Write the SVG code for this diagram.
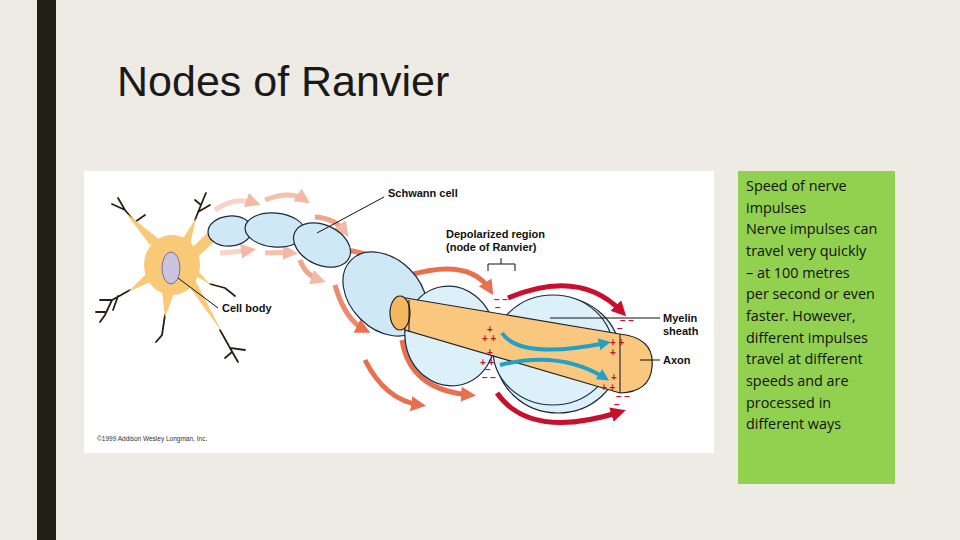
<svg xmlns="http://www.w3.org/2000/svg" width="960" height="540" viewBox="0 0 960 540">
<defs>
<style>
.lbl{font-family:"Liberation Sans",Arial,sans-serif;font-size:11px;font-weight:bold;fill:#111}
.ln{stroke:#111;stroke-width:1;fill:none}
.sc{fill:#cfe8f5;stroke:#1a2a3a;stroke-width:1.2}
.my{fill:#dcf0fa;stroke:#1a2a3a;stroke-width:1.2}
.dend{stroke:#2a1f10;stroke-width:1.8;fill:none;stroke-linecap:round}
.pr{fill:#f9c978}
.pl{font-family:"Liberation Sans",Arial,sans-serif;font-size:10px;font-weight:bold;fill:#c0143c}
.bt{font-family:"Open Sans","Liberation Sans",sans-serif;font-size:14.4px;fill:#111}
</style>
<marker id="ra" viewBox="0 0 10 10" refX="6" refY="5" markerWidth="3" markerHeight="3" orient="auto"><path d="M0,0 L10,5 L0,10 z" fill="#c8102e"/></marker>
<marker id="oa" viewBox="0 0 10 10" refX="6" refY="5" markerWidth="3" markerHeight="3" orient="auto"><path d="M0,0 L10,5 L0,10 z" fill="#e8704f"/></marker>
<marker id="pa" viewBox="0 0 10 10" refX="6" refY="5" markerWidth="3" markerHeight="3" orient="auto"><path d="M0,0 L10,5 L0,10 z" fill="#f5b8a4"/></marker>
<marker id="ba" viewBox="0 0 10 10" refX="6" refY="5" markerWidth="3" markerHeight="3" orient="auto"><path d="M0,0 L10,5 L0,10 z" fill="#22a0c8"/></marker>
</defs>
<rect width="960" height="540" fill="#eeebe4"/>
<rect x="37" y="0" width="19" height="540" fill="#1f1f14"/>
<text x="117" y="96" font-family="Liberation Sans,Arial,sans-serif" font-size="43" fill="#1a1a1a">Nodes of Ranvier</text>
<rect x="84" y="171" width="630" height="282" fill="#fff"/>
<g fill="none" stroke-width="5">
<path d="M215,210 Q235,196 255,203" stroke="#f8d4c6" marker-end="url(#pa)"/>
<path d="M265,200 Q290,190 305,200" stroke="#f5c0ac" marker-end="url(#pa)"/>
<path d="M315,217 Q335,218 345,232" stroke="#f0a48a" marker-end="url(#pa)"/>
<path d="M220,253 Q235,252 250,250" stroke="#f8d4c6" marker-end="url(#pa)"/>
<path d="M265,253 Q280,252 292,253" stroke="#f5c0ac" marker-end="url(#pa)"/>
<path d="M300,260 Q305,275 320,280" stroke="#f0a48a" marker-end="url(#pa)"/>
<path d="M335,285 Q345,320 365,330" stroke="#ed8a6c" marker-end="url(#oa)"/>
<path d="M345,250 Q390,255 405,285" stroke="#ec8062" marker-end="url(#oa)"/>
<path d="M365,360 Q385,400 420,405" stroke="#e8704f" marker-end="url(#oa)"/>
<path d="M410,275 Q470,258 490,290" stroke="#e8704f" marker-end="url(#oa)"/>
<path d="M402,340 Q410,390 470,395" stroke="#e8704f" marker-end="url(#oa)"/>
<path d="M508,298 Q580,268 622,312" stroke="#c8102e" marker-end="url(#ra)"/>
<path d="M497,393 Q530,440 620,412" stroke="#c8102e" marker-end="url(#ra)"/>
</g>
<g class="dend">
<path d="M148,238 L125,210 L118,198 M125,210 L112,204 M135,222 L145,215"/>
<path d="M195,220 L203,200 L206,193 M201,205 L195,200 M198,212 L210,205"/>
<path d="M130,290 L112,300 L100,300 M112,300 L105,315 L100,322 M118,296 L113,310 M105,312 L96,312"/>
<path d="M165,315 L162,335 L156,342"/>
<path d="M220,330 L230,348 L245,350 M230,348 L238,362 M232,352 L225,358"/>
<path d="M210,284 L225,288 L235,296"/>
</g>
<g id="cellbody">
<polygon class="pr" points="150,245 125,212 160,240"/>
<polygon class="pr" points="182,240 196,218 190,245"/>
<polygon class="pr" points="190,250 215,225 225,232 192,262"/>
<polygon class="pr" points="150,282 128,292 132,288 148,272"/>
<polygon class="pr" points="162,290 165,318 175,290"/>
<polygon class="pr" points="188,285 222,332 195,280"/>
<polygon class="pr" points="195,275 212,286 195,268"/>
<ellipse class="pr" cx="172" cy="265" rx="28" ry="30"/>
<ellipse cx="171" cy="268" rx="9" ry="16" fill="#c9c3dd" stroke="#7a7090"/>
</g>
<g id="schwann">
<ellipse class="sc" cx="230" cy="231" rx="22" ry="15" transform="rotate(-5 230 231)"/>
<ellipse class="sc" cx="275" cy="230" rx="30" ry="17" transform="rotate(5 275 230)"/>
<ellipse class="sc" cx="322" cy="245" rx="30" ry="20" transform="rotate(25 322 245)"/>
<ellipse class="sc" cx="385" cy="294" rx="48" ry="35" transform="rotate(45 385 294)"/>
</g>
<g id="myelin">
<ellipse class="my" cx="450" cy="336" rx="45" ry="50" transform="rotate(-10 450 336)"/>
<ellipse class="my" cx="558" cy="355" rx="62" ry="58"/>
<ellipse class="my" cx="553" cy="350" rx="60" ry="55" fill="none"/>
</g>
<g id="axon">
<path d="M400,297 L620,334 Q655,338 652,367 Q650,392 620,393 L405,330 Z" fill="#f9c77e" stroke="#222" stroke-width="1.2"/>
<ellipse cx="400" cy="313" rx="10" ry="17" fill="#f5b860" stroke="#222" stroke-width="1.2"/>
<line x1="409" y1="300" x2="409" y2="332" class="ln"/>
<line x1="620" y1="334" x2="620" y2="393" class="ln"/>
</g>
<g fill="none" stroke="#22a0c8" stroke-width="4">
<path d="M502,333 Q520,360 606,343" marker-end="url(#ba)"/>
<path d="M500,365 Q560,350 605,378" marker-end="url(#ba)"/>
</g>
<g class="pl">
<text x="487" y="333">+</text><text x="482" y="342">+ +</text>
<text x="487" y="356">+</text><text x="480" y="366">+ +</text>
<text x="610" y="346">+ +</text><text x="610" y="356">+</text>
<text x="611" y="381">+</text><text x="601" y="391">+ +</text>
<text x="494" y="303">– –</text><text x="495" y="311">–</text>
<text x="620" y="324">– –</text><text x="617" y="332">–</text>
<text x="485" y="373">–</text><text x="482" y="381">– –</text>
<text x="616" y="400">– –</text><text x="614" y="408">–</text>
</g>
<g id="labels">
<line x1="317" y1="233" x2="384" y2="197" class="ln"/>
<text class="lbl" x="388" y="197">Schwann cell</text>
<text class="lbl" x="446" y="238">Depolarized region</text>
<text class="lbl" x="446" y="251">(node of Ranvier)</text>
<path d="M488,271 V264 H515 V271 M501,264 V258" class="ln"/>
<line x1="178" y1="278" x2="218" y2="308" class="ln"/>
<text class="lbl" x="222" y="312">Cell body</text>
<line x1="550" y1="318" x2="660" y2="318" class="ln"/>
<text class="lbl" x="663" y="322">Myelin</text>
<text class="lbl" x="663" y="335">sheath</text>
<line x1="640" y1="360" x2="660" y2="360" class="ln"/>
<text class="lbl" x="663" y="364">Axon</text>
<text x="97" y="441" font-family="Liberation Sans,Arial,sans-serif" font-size="6.5" fill="#333">©1999 Addison Wesley Longman, Inc.</text>
</g>
<rect x="738" y="171" width="157" height="313" fill="#92d050"/>
<g class="bt">
<text x="746" y="191">Speed of nerve</text>
<text x="746" y="213">impulses</text>
<text x="746" y="234">Nerve impulses can</text>
<text x="746" y="256">travel very quickly</text>
<text x="746" y="278">– at 100 metres</text>
<text x="746" y="299">per second or even</text>
<text x="746" y="321">faster. However,</text>
<text x="746" y="343">different impulses</text>
<text x="746" y="364">travel at different</text>
<text x="746" y="386">speeds and are</text>
<text x="746" y="408">processed in</text>
<text x="746" y="429">different ways</text>
</g>
</svg>
